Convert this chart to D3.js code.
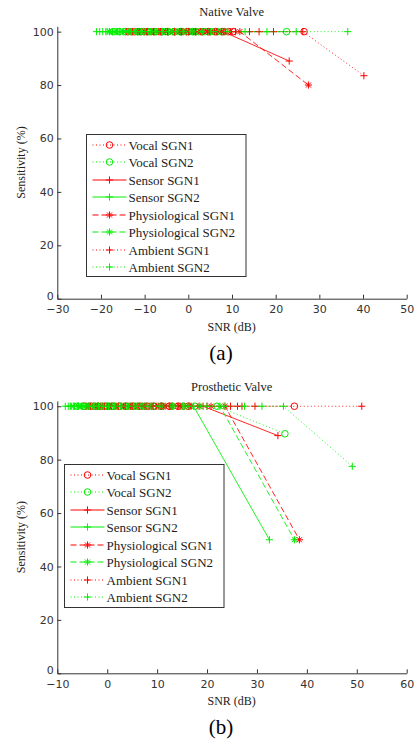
<!DOCTYPE html>
<html>
<head>
<meta charset="utf-8">
<script src="https://cdn.jsdelivr.net/npm/d3@7"></script>
<style>
  body { margin: 0; background: #fff; }
  svg { display: block; }
  .tick text { font-family: "DejaVu Sans", sans-serif; font-size: 11px; fill: #333; }
  .tick line, .domain { stroke: #333; }
  .serif { font-family: "Liberation Serif", "Times New Roman", serif; fill: #222; }
</style>
</head>
<body>
<div id="chart"></div>
<script>
// series names (legend order)
const seriesNames = ["Vocal SGN1", "Vocal SGN2", "Sensor SGN1", "Sensor SGN2",
                     "Physiological SGN1", "Physiological SGN2", "Ambient SGN1", "Ambient SGN2"];

// (a) Native Valve : [SNR dB, sensitivity %]
const nvVocal1 = [[-13.8,100],[-12.3,100],[-10.8,100],[-9.3,100],[-7.8,100],[-6.2,100],[-4.7,100],[-3.2,100],[-1.6,100],[0,100],[1.6,100],[3.1,100],[4.6,100],[6.2,100],[7.8,100],[9.2,100],[10.3,100],[26.5,100]];
const nvVocal2 = [[-17.2,100],[-15.8,100],[-14.4,100],[-13,100],[-11.6,100],[-10.2,100],[-8.8,100],[-7.4,100],[-6,100],[-4.6,100],[-3.2,100],[-1.8,100],[-0.4,100],[1,100],[2.4,100],[3.8,100],[5.2,100],[6.6,100],[8.2,100],[22.5,100]];
const nvSensor1 = [[-14.2,100],[-12.6,100],[-11,100],[-9.4,100],[-7.8,100],[-6.2,100],[-4.6,100],[-3,100],[-1.4,100],[0.2,100],[1.8,100],[3.4,100],[5,100],[6.6,100],[8,100],[23.1,89]];
const nvSensor2 = [[-18.6,100],[-17.4,100],[-16.2,100],[-15,100],[-13.8,100],[-12.6,100],[-11.4,100],[-10.2,100],[-9,100],[-7.8,100],[-6.6,100],[-5.4,100],[-4.2,100],[-3,100],[-1.8,100],[-0.6,100],[0.6,100],[1.8,100],[3.2,100],[5,100],[7.5,100],[24.7,100]];
const nvPhys1 = [[-13.2,100],[-11.6,100],[-10,100],[-8.4,100],[-6.8,100],[-5.2,100],[-3.6,100],[-2,100],[-0.4,100],[1.2,100],[2.8,100],[4.4,100],[6,100],[7.6,100],[9.6,100],[11.8,100],[27.5,80]];
const nvPhys2 = [[-18,100],[-16.8,100],[-15.6,100],[-14.4,100],[-13.2,100],[-12,100],[-10.8,100],[-9.6,100],[-8.4,100],[-7.2,100],[-6,100],[-4.8,100],[-3.6,100],[-2.4,100],[-1.2,100],[0,100],[1.4,100],[3,100],[5,100],[7,100]];
const nvAmb1 = [[-12.8,100],[-11.2,100],[-9.6,100],[-8,100],[-6.4,100],[-4.8,100],[-3.2,100],[-1.6,100],[0,100],[1.6,100],[3.2,100],[4.8,100],[6.4,100],[8.4,100],[10.8,100],[14,100],[16.2,100],[19.5,100],[26.2,100],[40.2,83.5]];
const nvAmb2 = [[-21,100],[-20.3,100],[-19.6,100],[-18.9,100],[-18.1,100],[-17.3,100],[-16.5,100],[-15.7,100],[-14.8,100],[-13.9,100],[-13,100],[-12,100],[-11,100],[-9.9,100],[-8.7,100],[-7.4,100],[-6,100],[-4.5,100],[-2.9,100],[-1.1,100],[0.9,100],[3.2,100],[5.8,100],[9,100],[13,100],[18,100],[36.5,100]];

// (b) Prosthetic Valve
const psVocal1 = [[-4.6,100],[-3.2,100],[-1.8,100],[-0.4,100],[1,100],[2.4,100],[3.8,100],[5.2,100],[6.6,100],[8,100],[9.4,100],[10.8,100],[12.4,100],[14.2,100],[16.2,100],[37.5,100]];
const psVocal2 = [[-6,100],[-4.8,100],[-3.6,100],[-2.4,100],[-1.2,100],[0,100],[1.2,100],[2.4,100],[3.6,100],[4.8,100],[6.2,100],[7.6,100],[9.2,100],[11,100],[13,100],[15.2,100],[17.6,100],[22,100],[35.6,89.7]];
const psSensor1 = [[-4.2,100],[-2.8,100],[-1.4,100],[0,100],[1.4,100],[2.8,100],[4.2,100],[5.6,100],[7,100],[8.4,100],[9.8,100],[11.2,100],[12.6,100],[14,100],[15.4,100],[16.8,100],[19.2,100],[34.2,89]];
const psSensor2 = [[-7.4,100],[-6.6,100],[-5.8,100],[-5,100],[-4.2,100],[-3.4,100],[-2.6,100],[-1.8,100],[-1,100],[-0.2,100],[0.6,100],[1.6,100],[2.8,100],[4,100],[5.4,100],[7,100],[8.8,100],[10.8,100],[13,100],[15,100],[17.3,100],[32.5,50]];
const psPhys1 = [[-3.8,100],[-2.4,100],[-1,100],[0.4,100],[1.8,100],[3.2,100],[4.6,100],[6,100],[7.4,100],[8.8,100],[10.2,100],[11.6,100],[13,100],[14.6,100],[16.4,100],[18.4,100],[20.8,100],[23.6,100],[38.5,50]];
const psPhys2 = [[-6.8,100],[-5.8,100],[-4.8,100],[-3.8,100],[-2.8,100],[-1.8,100],[-0.8,100],[0.2,100],[1.4,100],[2.6,100],[4,100],[5.4,100],[7,100],[8.8,100],[10.8,100],[13,100],[15.4,100],[18.6,100],[22.6,100],[37.5,50]];
const psAmb1 = [[-3.4,100],[-2,100],[-0.6,100],[0.8,100],[2.2,100],[3.6,100],[5,100],[6.4,100],[7.8,100],[9.2,100],[10.8,100],[12.4,100],[14.2,100],[16.4,100],[20,100],[24.7,100],[26.1,100],[27,100],[29.6,100],[51,100]];
const psAmb2 = [[-8.4,100],[-7.8,100],[-7.2,100],[-6.6,100],[-5.9,100],[-5.2,100],[-4.4,100],[-3.6,100],[-2.7,100],[-1.8,100],[-0.8,100],[0.3,100],[1.5,100],[2.8,100],[4.3,100],[6,100],[8,100],[10.4,100],[13.2,100],[16.4,100],[20,100],[23.4,100],[27.5,100],[31,100],[35.3,100],[49.1,77.5]];

// tick values
const xTicksA = [-30, -20, -10, 0, 10, 20, 30, 40, 50];
const xTicksB = [-10, 0, 10, 20, 30, 40, 50, 60];
const yTicks = [0, 20, 40, 60, 80, 100];

// line style per series (MATLAB-ish)
const styles = [
  { color: "#ff0000", dash: "1,2.5", marker: "circle" },
  { color: "#00ee00", dash: "1,2.5", marker: "circle" },
  { color: "#ff0000", dash: null,    marker: "plus" },
  { color: "#00ee00", dash: null,    marker: "plus" },
  { color: "#ff0000", dash: "6,3",   marker: "star" },
  { color: "#00ee00", dash: "6,3",   marker: "star" },
  { color: "#ff0000", dash: "1,2.5", marker: "plus" },
  { color: "#00ee00", dash: "1,2.5", marker: "plus" }
];

const W = 417, H = 749;
const svg = d3.select("#chart").append("svg").attr("width", W).attr("height", H);
svg.append("rect").attr("width", W).attr("height", H).attr("fill", "#fff");

// marker path generator
function markerPath(type, r) {
  if (type === "plus") return `M${-r},0H${r}M0,${-r}V${r}`;
  if (type === "star") {
    const d = r * 0.7;
    return `M${-r},0H${r}M0,${-r}V${r}M${-d},${-d}L${d},${d}M${-d},${d}L${d},${-d}`;
  }
  return null;
}

function drawMarker(g, type, x, y, color) {
  if (type === "circle") {
    g.append("circle").attr("cx", x).attr("cy", y).attr("r", 3.3)
      .style("fill", "none").style("stroke", color).style("stroke-width", 1);
  } else {
    g.append("path").attr("transform", `translate(${x},${y})`)
      .attr("d", markerPath(type, 3.6))
      .style("fill", "none").style("stroke", color).style("stroke-width", 1);
  }
}

function drawPanel(opt) {
  const x = d3.scaleLinear().domain(opt.xDomain).range([57.3, 406.7]);
  const y = d3.scaleLinear().domain([0, 102]).range([opt.bottom, opt.bottom - 272.4]);
  const g = svg.append("g");

  // axes, ticks pointing inward like matlab
  g.append("g").attr("transform", `translate(0,${opt.bottom})`)
    .call(d3.axisBottom(x).tickValues(opt.xTicks).tickSizeInner(-4).tickSizeOuter(0).tickPadding(6.5));
  const ya = g.append("g").attr("transform", `translate(57.3,0)`)
    .call(d3.axisLeft(y).tickValues(yTicks).tickSizeInner(-4).tickSizeOuter(0).tickPadding(3.5));
  // the 0 label sits just above the x axis, as in the original
  ya.selectAll(".tick text").filter(d => d === 0).attr("dy", "0.05em");

  // title and labels
  g.append("text").attr("class", "serif").attr("x", 231.7).attr("y", y(102) - 10)
    .attr("text-anchor", "middle").style("font-size", "12.5px").text(opt.title);
  g.append("text").attr("class", "serif").attr("x", 231.7).attr("y", opt.bottom + 32)
    .attr("text-anchor", "middle").style("font-size", "12px").text("SNR (dB)");
  g.append("text").attr("class", "serif")
    .attr("transform", `translate(25,${(opt.bottom + y(102)) / 2}) rotate(-90)`)
    .attr("text-anchor", "middle").style("font-size", "12px").text("Sensitivity (%)");
  g.append("text").attr("class", "serif").attr("x", 221).attr("y", opt.bottom + 61)
    .attr("text-anchor", "middle").style("font-size", "21px").style("fill", "#000").text(opt.label);

  // series
  const line = d3.line().x(d => x(d[0])).y(d => y(d[1]));
  opt.series.forEach((data, i) => {
    const s = styles[i];
    const sg = g.append("g");
    sg.append("path").datum(data).attr("d", line)
      .style("fill", "none").style("stroke", s.color).style("stroke-width", 1)
      .attr("stroke-dasharray", s.dash).style("stroke-opacity", 0.85);
    data.forEach(d => drawMarker(sg, s.marker, x(d[0]), y(d[1]), s.color));
  });

  // legend
  const L = opt.legend;
  const lg = g.append("g");
  lg.append("rect").attr("x", L.x).attr("y", L.y).attr("width", L.w).attr("height", L.h)
    .style("fill", "#fff").style("stroke", "#333").style("stroke-width", 1);
  seriesNames.forEach((name, i) => {
    const s = styles[i];
    // whole-pixel rows so the thin red strokes spread a little (softer, like the original)
    const ry = Math.round(L.y + 10 + i * 17.5);
    lg.append("line").attr("x1", L.x + 6).attr("x2", L.x + 40).attr("y1", ry).attr("y2", ry)
      .style("stroke", s.color).style("stroke-width", 1).attr("stroke-dasharray", s.dash);
    drawMarker(lg, s.marker, L.x + 23, ry, s.color);
    lg.append("text").attr("class", "serif").attr("x", L.x + 42).attr("y", ry + 4.5)
      .style("font-size", "13px").text(name);
  });
}

drawPanel({
  title: "Native Valve", label: "(a)", xDomain: [-30, 50], xTicks: xTicksA, bottom: 298.7,
  series: [nvVocal1, nvVocal2, nvSensor1, nvSensor2, nvPhys1, nvPhys2, nvAmb1, nvAmb2],
  legend: { x: 86.5, y: 134.5, w: 159.5, h: 142 }
});
drawPanel({
  title: "Prosthetic Valve", label: "(b)", xDomain: [-10, 60], xTicks: xTicksB, bottom: 673.3,
  series: [psVocal1, psVocal2, psSensor1, psSensor2, psPhys1, psPhys2, psAmb1, psAmb2],
  legend: { x: 64.5, y: 464.5, w: 159.5, h: 143 }
});
</script>
</body>
</html>
